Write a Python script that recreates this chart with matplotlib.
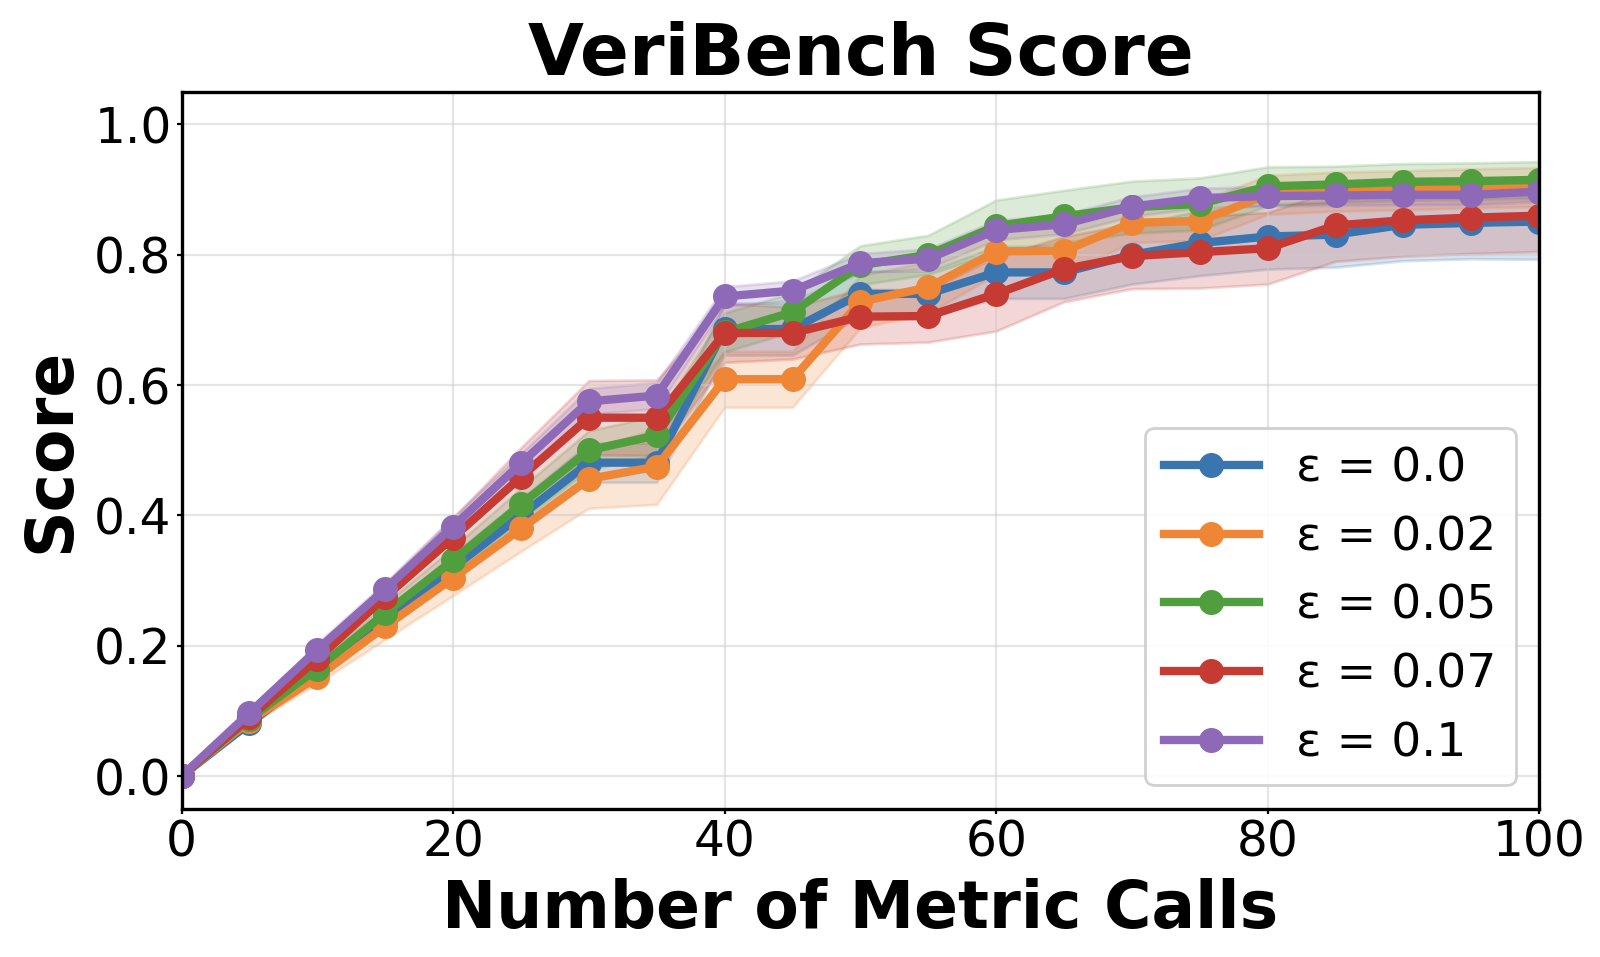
import numpy as np
import matplotlib
matplotlib.use('Agg')
import matplotlib.pyplot as plt

calls = [0, 5, 10, 15, 20, 25, 30, 35, 40, 45, 50, 55, 60, 65, 70, 75, 80, 85, 90, 95, 100]
labels = ['ε = 0.0', 'ε = 0.02', 'ε = 0.05', 'ε = 0.07', 'ε = 0.1']
colors = ['#3b75af', '#ef8636', '#519e3e', '#c53a32', '#8d69b8']

score_00 = [0.0, 0.081, 0.16, 0.24, 0.32, 0.40, 0.481, 0.481, 0.686, 0.686, 0.74, 0.74,
            0.773, 0.773, 0.80, 0.818, 0.828, 0.831, 0.846, 0.849, 0.851]
score_02 = [0.0, 0.085, 0.152, 0.23, 0.304, 0.38, 0.456, 0.475, 0.609, 0.609, 0.728, 0.75,
            0.805, 0.806, 0.849, 0.852, 0.892, 0.897, 0.899, 0.902, 0.904]
score_05 = [0.0, 0.088, 0.165, 0.25, 0.331, 0.417, 0.50, 0.523, 0.681, 0.712, 0.784, 0.80,
            0.844, 0.859, 0.873, 0.878, 0.905, 0.908, 0.912, 0.913, 0.915]
score_07 = [0.0, 0.09, 0.18, 0.275, 0.366, 0.459, 0.55, 0.55, 0.68, 0.68, 0.705, 0.706,
            0.74, 0.778, 0.798, 0.804, 0.81, 0.845, 0.853, 0.857, 0.86]
score_10 = [0.0, 0.097, 0.194, 0.287, 0.383, 0.48, 0.575, 0.584, 0.736, 0.745, 0.787, 0.794,
            0.838, 0.847, 0.874, 0.887, 0.89, 0.891, 0.892, 0.892, 0.897]

std_00 = [0.0, 0.005, 0.01, 0.015, 0.02, 0.025, 0.03, 0.03, 0.04, 0.04, 0.035, 0.035,
          0.04, 0.04, 0.045, 0.05, 0.05, 0.05, 0.055, 0.055, 0.058]
std_02 = [0.0, 0.005, 0.01, 0.02, 0.027, 0.035, 0.045, 0.058, 0.043, 0.043, 0.04, 0.04,
          0.035, 0.035, 0.03, 0.03, 0.03, 0.03, 0.03, 0.03, 0.03]
std_05 = [0.0, 0.005, 0.01, 0.015, 0.02, 0.025, 0.03, 0.03, 0.03, 0.03, 0.03, 0.03,
          0.04, 0.04, 0.04, 0.04, 0.03, 0.028, 0.028, 0.028, 0.028]
std_07 = [0.0, 0.005, 0.01, 0.02, 0.03, 0.045, 0.057, 0.058, 0.045, 0.04, 0.042, 0.04,
          0.057, 0.05, 0.05, 0.055, 0.055, 0.055, 0.055, 0.055, 0.055]
std_10 = [0.0, 0.005, 0.01, 0.01, 0.015, 0.015, 0.02, 0.02, 0.015, 0.015, 0.015, 0.015,
          0.015, 0.015, 0.015, 0.015, 0.015, 0.015, 0.015, 0.015, 0.015]

scores = [score_00, score_02, score_05, score_07, score_10]
stds = [std_00, std_02, std_05, std_07, std_10]

fig = plt.figure(figsize=(8, 4.785), dpi=200)
ax = fig.add_axes([0.1135, 0.155, 0.8485, 0.749])

for s, sd, c, lab in zip(scores, stds, colors, labels):
    s = np.array(s)
    sd = np.array(sd)
    ax.fill_between(calls, s - sd, s + sd, color=c, alpha=0.2)
    ax.plot(calls, s, color=c, lw=3, marker='o', markersize=8, label=lab)

ax.set_xlim(0, 100)
ax.set_ylim(-0.05, 1.05)
ax.set_xticks([0, 20, 40, 60, 80, 100])
ax.set_yticks([0.0, 0.2, 0.4, 0.6, 0.8, 1.0])
ax.tick_params(labelsize=17.5, length=1.8, pad=1.8)
ax.grid(True, color='#cccccc', alpha=0.5, lw=0.8)
for sp in ax.spines.values():
    sp.set_linewidth(1.2)
    sp.set_color('black')

ax.set_title('VeriBench Score', fontsize=26, fontweight='bold', pad=6)
ax.set_xlabel('Number of Metric Calls', fontsize=23.3, fontweight='bold')
ax.set_ylabel('Score', fontsize=23.3, fontweight='bold')
ax.legend(loc='lower right', fontsize=17, framealpha=0.9)

fig.savefig('out.png', dpi=200)
